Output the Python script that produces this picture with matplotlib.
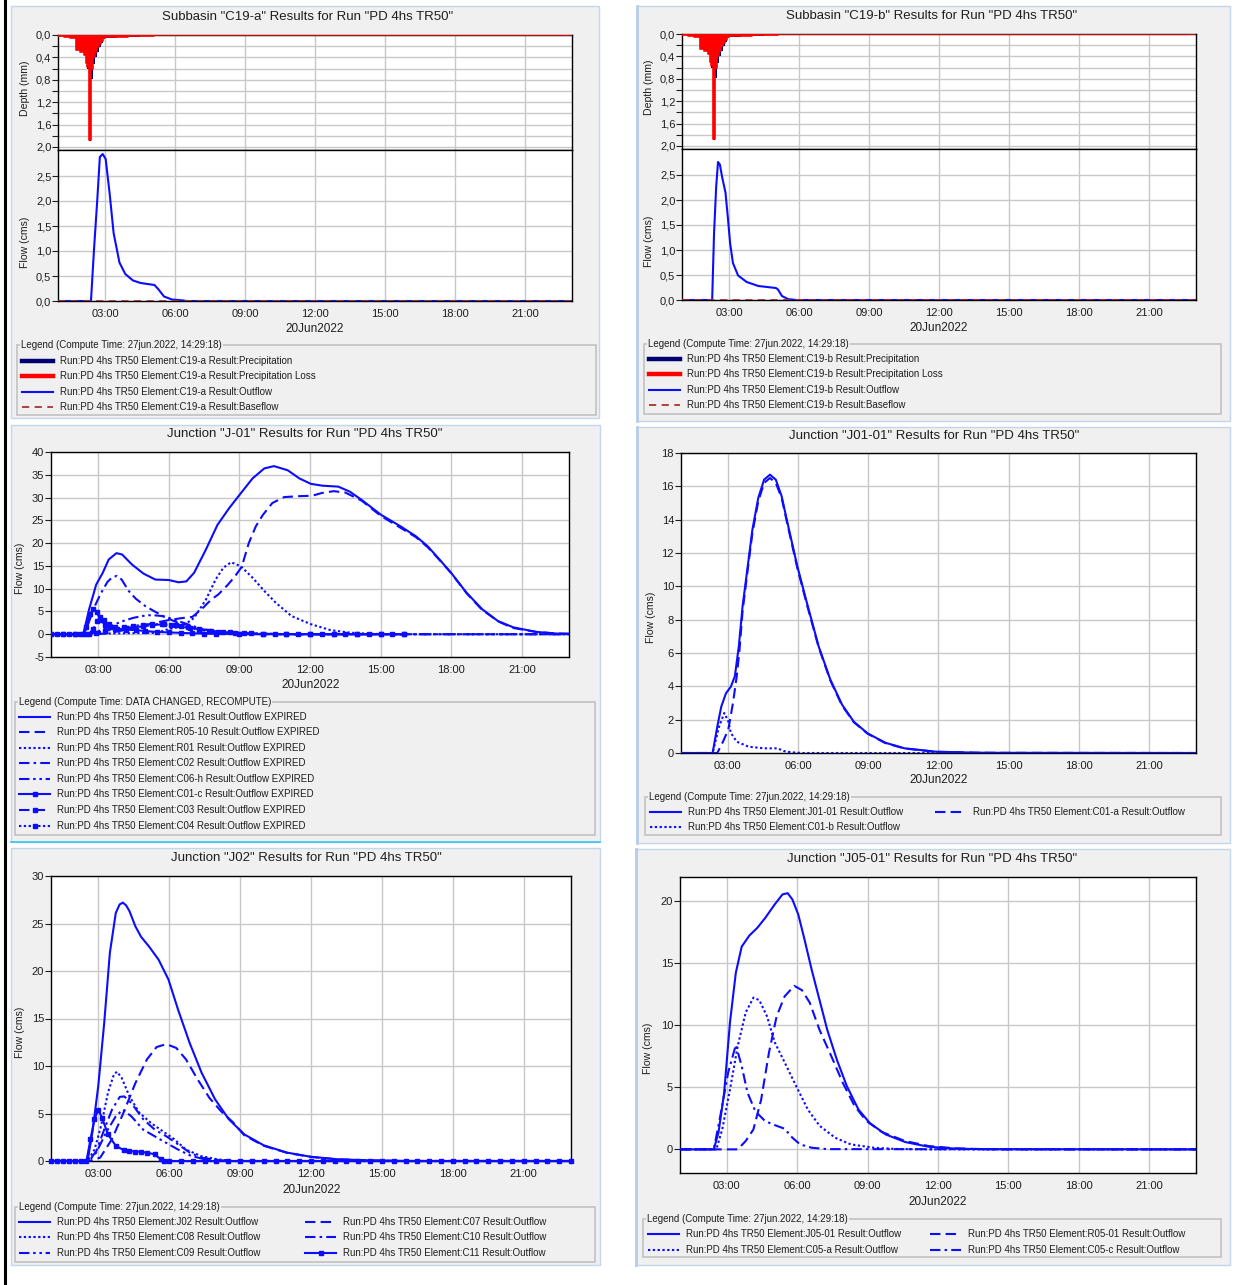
import numpy as np
import matplotlib
matplotlib.use("Agg")
import matplotlib.pyplot as plt
from matplotlib.patches import Rectangle
from matplotlib.lines import Line2D

# ---------------- data (hours of 20Jun2022, flow in cms, depth in mm) ----------------
hour_ticks = [3, 6, 9, 12, 15, 18, 21]
hour_labels = ["03:00", "06:00", "09:00", "12:00", "15:00", "18:00", "21:00"]
date_label = "20Jun2022"
run_prefix = "Run:PD 4hs TR50 Element:"

# subbasin hyetograph (step values, starting at each time)
hyet_t = [1.00, 1.25, 1.50, 1.75, 1.92, 2.08, 2.17, 2.25, 2.33, 2.42, 2.50, 2.58,
          2.67, 2.75, 2.83, 2.92, 3.00, 3.50, 4.00, 4.50, 5.10, 23.0]
hyet_precip = [0.02, 0.03, 0.05, 0.27, 0.30, 0.35, 0.50, 0.60, 1.90, 0.78, 0.52, 0.40,
               0.30, 0.22, 0.14, 0.08, 0.05, 0.04, 0.03, 0.02, 0.0, 0.0]
hyet_loss = [0.02, 0.03, 0.05, 0.27, 0.30, 0.35, 0.50, 0.58, 1.88, 0.60, 0.40, 0.30,
             0.22, 0.16, 0.10, 0.06, 0.04, 0.03, 0.02, 0.01, 0.0, 0.0]

c19a_t = [1.0, 2.40, 2.53, 2.67, 2.78, 2.90, 3.03, 3.20, 3.37, 3.62, 3.87, 4.20, 4.53,
          5.12, 5.28, 5.53, 5.87, 6.37, 6.50, 23.0]
c19a_q = [0, 0, 1.03, 2.02, 2.88, 2.94, 2.84, 2.15, 1.36, 0.77, 0.54, 0.41, 0.36,
          0.32, 0.24, 0.09, 0.03, 0.01, 0, 0]
c19b_t = [1.0, 2.28, 2.36, 2.45, 2.53, 2.61, 2.71, 2.85, 2.95, 3.05, 3.17, 3.39, 3.76,
          4.26, 5.01, 5.10, 5.27, 5.52, 5.85, 23.0]
c19b_q = [0, 0, 1.33, 2.25, 2.76, 2.71, 2.45, 2.15, 1.66, 1.13, 0.74, 0.49, 0.36,
          0.28, 0.24, 0.21, 0.08, 0.02, 0, 0]
base_t = [1.0, 23.0]
base_q = [0, 0]

# Junction J-01
j01_t = [1.0, 2.37, 2.62, 2.92, 3.20, 3.45, 3.78, 4.02, 4.44, 4.93, 5.43, 6.00, 6.42, 6.75,
         7.08, 7.58, 8.07, 8.57, 9.07, 9.56, 10.06, 10.47, 11.05, 11.55, 12.04, 12.54, 13.20,
         13.69, 14.19, 15.02, 15.84, 16.50, 17.00, 17.50, 17.99, 18.65, 19.31, 19.98, 20.64,
         21.63, 22.46, 23.0]
j01_q = [0, 0, 5.5, 10.9, 13.5, 16.4, 17.8, 17.5, 15.3, 13.3, 12.0, 11.9, 11.4, 11.6,
         13.5, 18.6, 24.0, 27.7, 31.0, 34.2, 36.4, 36.9, 36.0, 34.2, 33.0, 32.6, 32.4,
         31.3, 29.5, 26.2, 23.7, 21.5, 19.3, 16.4, 13.5, 9.1, 5.5, 2.9, 1.5,
         0.5, 0.15, 0.1]
r0510_t = [1.0, 3.0, 3.5, 4.0, 4.5, 5.0, 5.5, 6.0, 6.5, 7.0, 7.4, 7.8, 8.1, 8.5, 8.8, 9.1,
           9.4, 9.7, 10.0, 10.4, 10.9, 11.5, 12.1, 12.5, 13.0, 13.5, 14.2, 15.0, 15.8, 16.5,
           17.0, 17.5, 18.0, 18.65, 19.3, 20.0, 20.6, 21.6, 22.5, 23.0]
r0510_q = [0, 0, 0.3, 0.8, 1.4, 2.0, 2.6, 3.1, 3.5, 3.8, 5.5, 7.6, 8.7, 10.8, 12.6, 14.8,
           20.0, 23.7, 26.2, 28.8, 30.1, 30.3, 30.4, 31.0, 31.4, 31.1, 29.3, 26.0, 23.5, 21.3,
           19.1, 16.3, 13.4, 9.0, 5.4, 2.8, 1.4, 0.5, 0.15, 0.1]
r01_t = [1.0, 5.5, 5.9, 6.6, 7.08, 7.58, 7.99, 8.32, 8.65, 9.07, 9.56, 10.06, 10.55, 11.21,
         12.04, 12.87, 13.69, 14.52, 15.5, 23.0]
r01_q = [0, 0.3, 1.0, 1.8, 3.6, 7.6, 12.0, 14.6, 15.8, 14.9, 12.4, 9.5, 6.9, 4.0,
         2.2, 0.9, 0.35, 0.1, 0, 0]
c02_t = [1.0, 2.4, 2.6, 2.8, 3.1, 3.4, 3.6, 3.8, 4.0, 4.3, 4.6, 5.0, 5.4, 5.9, 6.4, 6.9,
         7.5, 8.0, 8.7, 9.5, 10.5, 23.0]
c02_q = [0, 0, 2.5, 5.5, 8.8, 11.5, 12.5, 12.8, 12.0, 9.5, 7.8, 6.2, 5.0, 3.6, 2.5, 1.6,
         0.8, 0.5, 0.2, 0.05, 0, 0]
c06h_t = [1.0, 2.5, 2.8, 3.2, 3.6, 4.0, 4.5, 5.0, 5.3, 5.7, 6.0, 6.4, 6.8, 7.2, 7.6, 8.0,
          8.5, 9.0, 10.0, 11.0, 23.0]
c06h_q = [0, 0, 0.3, 1.0, 1.9, 2.8, 3.6, 4.1, 4.2, 4.0, 3.6, 2.9, 2.2, 1.5, 1.0, 0.6,
          0.35, 0.2, 0.05, 0, 0]
c01c_t = [1.0, 1.5, 2.0, 2.35, 2.5, 2.65, 2.8, 2.95, 3.1, 3.3, 3.5, 3.8, 4.2, 4.6, 5.0,
          5.5, 6.0, 6.5, 7.0, 7.5, 8.0, 9.0, 10.0, 11.0, 12.0, 13.0, 14.0, 15.0, 16.0]
c01c_q = [0, 0, 0, 0, 1.5, 4.5, 5.5, 4.8, 3.2, 2.0, 1.5, 1.2, 1.0, 0.9, 0.7,
          0.5, 0.4, 0.3, 0.2, 0.15, 0.1, 0.05, 0, 0, 0, 0, 0, 0, 0]
c03_t = [1.25, 1.75, 2.25, 2.6, 2.8, 2.95, 3.1, 3.25, 3.45, 3.7, 4.1, 4.5, 4.9, 5.3, 5.8,
         6.3, 6.8, 7.3, 7.8, 8.3, 8.8, 9.5, 10.5, 11.5, 12.5, 13.5, 14.5, 15.5]
c03_q = [0, 0, 0, 0, 1.2, 2.8, 3.7, 3.1, 2.2, 1.6, 1.4, 1.5, 1.7, 2.0, 2.2,
         2.0, 1.6, 1.2, 0.8, 0.55, 0.35, 0.2, 0.05, 0, 0, 0, 0, 0]
c04_t = [1.0, 1.5, 2.0, 2.5, 2.9, 3.3, 3.7, 4.1, 4.5, 4.9, 5.3, 5.7, 6.1, 6.5, 6.9, 7.3,
         7.7, 8.1, 8.6, 9.2, 10.0, 11.0, 12.0, 13.0, 14.0, 15.0, 16.0]
c04_q = [0, 0, 0, 0, 0.3, 0.7, 1.1, 1.5, 1.8, 2.1, 2.2, 2.2, 2.0, 1.7, 1.3, 1.0,
         0.75, 0.55, 0.4, 0.25, 0.12, 0.04, 0, 0, 0, 0, 0]

# Junction J01-01
j0101_t = [1.0, 2.35, 2.55, 2.72, 2.92, 3.13, 3.30, 3.47, 3.63, 3.85, 4.05, 4.30, 4.55, 4.80,
           5.05, 5.30, 5.55, 5.97, 6.38, 6.88, 7.38, 7.88, 8.38, 8.97, 9.72, 10.55, 11.88,
           13.55, 14.55, 23.0]
j0101_q = [0, 0, 1.58, 2.78, 3.58, 3.98, 4.6, 6.4, 8.8, 11.2, 13.4, 15.3, 16.4, 16.7,
           16.4, 15.4, 13.8, 11.2, 9.0, 6.4, 4.4, 2.9, 1.88, 1.18, 0.62, 0.28, 0.08,
           0.02, 0.01, 0]
c01a_t = [1.0, 2.55, 2.80, 3.02, 3.22, 3.38, 3.50, 3.63, 3.85, 4.05, 4.30, 4.55, 4.80, 5.05,
          5.30, 5.55, 5.97, 6.38, 6.88, 7.38, 7.88, 8.38, 8.97, 9.72, 10.55, 11.88, 13.55,
          14.55, 23.0]
c01a_q = [0, 0, 0.7, 1.4, 3.0, 4.6, 6.2, 8.5, 11.0, 13.2, 15.1, 16.2, 16.5, 16.2,
          15.3, 13.7, 11.1, 8.9, 6.35, 4.35, 2.85, 1.85, 1.16, 0.6, 0.27, 0.07, 0.02,
          0.01, 0]
c01b_t = [1.0, 2.35, 2.63, 2.85, 3.02, 3.13, 3.38, 3.88, 4.55, 5.13, 5.38, 5.72, 6.20, 23.0]
c01b_q = [0, 0, 1.6, 2.4, 1.9, 1.2, 0.68, 0.38, 0.28, 0.28, 0.12, 0.04, 0, 0]

# Junction J02
j02_t = [1.0, 2.55, 2.75, 3.00, 3.25, 3.49, 3.74, 3.90, 4.04, 4.18, 4.32, 4.57, 4.81, 5.14,
         5.55, 5.97, 6.38, 6.87, 7.37, 7.94, 8.52, 9.18, 10.0, 10.99, 11.98, 13.14, 14.46,
         16.1, 23.0]
j02_q = [0, 0, 3.0, 7.9, 14.5, 21.9, 26.1, 27.0, 27.2, 26.9, 26.3, 24.7, 23.6, 22.6,
         21.2, 19.1, 15.9, 12.4, 9.3, 6.5, 4.4, 2.8, 1.65, 0.88, 0.45, 0.18, 0.07,
         0, 0]
c07_t = [1.0, 2.6, 3.08, 3.58, 4.07, 4.57, 5.06, 5.47, 5.88, 6.30, 6.71, 7.20, 7.70, 8.19,
         8.69, 9.18, 10.0, 11.0, 12.0, 13.1, 14.5, 16.0, 23.0]
c07_q = [0, 0, 0.35, 2.3, 5.1, 8.2, 10.7, 12.0, 12.3, 11.9, 10.7, 8.6, 6.65, 5.25,
         4.1, 2.7, 1.6, 0.85, 0.43, 0.17, 0.06, 0, 0]
c08_t = [1.0, 2.55, 2.84, 3.12, 3.41, 3.66, 3.79, 3.99, 4.32, 4.73, 5.23, 5.72, 6.21, 6.71,
         7.37, 8.03, 8.69, 23.0]
c08_q = [0, 0, 1.2, 3.7, 7.2, 9.1, 9.4, 8.75, 6.8, 5.1, 4.0, 3.15, 2.3, 1.2,
         0.5, 0.18, 0, 0]
c10_t = [1.0, 2.6, 2.92, 3.25, 3.58, 3.91, 4.10, 4.40, 4.90, 5.39, 5.88, 6.38, 6.87, 7.37,
         8.03, 8.69, 23.0]
c10_q = [0, 0, 1.05, 3.3, 5.4, 6.75, 6.8, 6.1, 4.4, 3.3, 2.6, 1.75, 0.88, 0.35,
         0.1, 0, 0]
c09_t = [1.0, 2.6, 2.92, 3.33, 3.74, 4.04, 4.40, 4.90, 5.39, 5.88, 6.38, 6.87, 7.37, 8.03, 23.0]
c09_q = [0, 0, 0.9, 3.0, 4.7, 5.4, 4.7, 3.3, 2.6, 1.9, 1.2, 0.6, 0.25, 0, 0]
c11_t = [1.0, 1.25, 1.5, 1.75, 2.0, 2.25, 2.5, 2.67, 2.84, 3.0, 3.16, 3.41, 3.74, 4.07,
         4.32, 4.57, 4.82, 5.06, 5.39, 5.64, 5.8, 6.0, 6.5, 7.0, 7.5, 8.0, 8.5, 9.0, 9.5,
         10.0, 10.5, 11.0, 11.5, 12.0, 12.5, 13.0, 13.5, 14.0, 14.5, 15.0, 15.5, 16.0,
         16.5, 17.0, 17.5, 18.0, 18.5, 19.0, 19.5, 20.0, 20.5, 21.0, 21.5, 22.0, 22.5, 23.0]
c11_q = [0, 0, 0, 0, 0, 0, 0, 2.3, 4.4, 5.4, 4.55, 2.8, 1.6, 1.15,
         1.05, 1.0, 0.95, 0.88, 0.7, 0.18, 0, 0, 0, 0, 0, 0, 0, 0, 0,
         0, 0, 0, 0, 0, 0, 0, 0, 0, 0, 0, 0, 0,
         0, 0, 0, 0, 0, 0, 0, 0, 0, 0, 0, 0, 0, 0]

# Junction J05-01
j0501_t = [1.0, 2.44, 2.64, 2.88, 3.13, 3.38, 3.63, 3.96, 4.29, 4.63, 5.04, 5.37, 5.59, 5.79,
           6.04, 6.28, 6.62, 6.95, 7.28, 7.69, 8.11, 8.61, 9.10, 9.77, 10.60, 11.59, 12.59,
           13.58, 23.0]
j0501_q = [0, 0, 1.34, 4.5, 10.2, 14.2, 16.3, 17.2, 17.8, 18.6, 19.7, 20.5, 20.6, 20.1,
           18.9, 17.1, 14.4, 12.0, 9.6, 7.2, 5.1, 3.2, 2.1, 1.2, 0.59, 0.21, 0.08,
           0.02, 0]
r0501_t = [1.0, 3.46, 3.80, 4.13, 4.46, 4.79, 5.12, 5.46, 5.87, 6.20, 6.53, 6.95, 7.45, 7.94,
           8.44, 8.94, 9.60, 10.60, 11.59, 12.75, 14.40, 23.0]
r0501_q = [0, 0, 0.67, 1.6, 4.0, 7.75, 10.7, 12.3, 13.15, 12.8, 11.8, 9.6, 7.5, 5.35,
           3.5, 2.3, 1.4, 0.67, 0.27, 0.08, 0, 0]
c05a_t = [1.0, 2.55, 2.80, 3.13, 3.46, 3.80, 4.13, 4.38, 4.71, 5.04, 5.46, 5.95, 6.45, 6.95,
          7.61, 8.28, 9.27, 10.27, 11.5, 23.0]
c05a_q = [0, 0, 1.6, 4.8, 8.3, 11.0, 12.2, 12.0, 10.7, 8.6, 7.0, 5.1, 3.2, 1.9,
          0.94, 0.4, 0.13, 0.03, 0, 0]
c05c_t = [1.0, 2.44, 2.72, 3.05, 3.38, 3.63, 3.88, 4.21, 4.63, 5.04, 5.46, 5.79, 6.12, 6.62,
          7.28, 23.0]
c05c_q = [0, 0, 2.7, 6.15, 8.4, 6.7, 4.55, 3.07, 2.27, 1.95, 1.66, 0.94, 0.4, 0.13,
          0.02, 0]

# ---------------- styling ----------------
W, H = 1235, 1285
BLUE = "#0c0cff"
NAVY = "#000070"
RED = "#ff0000"
BROWN = "#a83232"
PANEL = "#f0f0f0"
EDGE = "#c6d6ea"
GRID = "#c8c8c8"
TXT = "#1e1e1e"
FS_TITLE = 9.5
FS_TICK = 8.0
FS_DATE = 8.5
FS_LAB = 7.6
FS_LEG = 7.0

plt.rcParams["font.family"] = ["Liberation Sans", "DejaVu Sans"]
plt.rcParams["axes.unicode_minus"] = False

STYLES = {
    "solid": dict(ls="-"),
    "dash": dict(ls=(0, (5, 2.5))),
    "dot": dict(ls=(0, (1.1, 1.2))),
    "dashdot": dict(ls=(0, (5, 2, 1.2, 2))),
    "dashdotdot": dict(ls=(0, (5, 1.8, 1.2, 1.8, 1.2, 1.8))),
    "solid_sq": dict(ls="-", marker="s", ms=3.2),
    "dash_sq": dict(ls=(0, (5, 2.5)), marker="s", ms=3.2),
    "dot_sq": dict(ls=(0, (1.1, 1.2)), marker="s", ms=3.2),
}

fig = plt.figure(figsize=(W / 100, H / 100), dpi=100)
fig.patch.set_facecolor("white")


def fxy(x, y):
    return x / W, 1 - y / H


def panel(x0, y0, x1, y1, left_bar=False):
    fig.patches.append(Rectangle(fxy(x0, y1), (x1 - x0) / W, (y1 - y0) / H,
                                 transform=fig.transFigure, fc=PANEL, ec=EDGE, lw=1.0,
                                 zorder=-5))
    if left_bar:
        fig.add_artist(Line2D([x0 / W] * 2, [1 - y0 / H, 1 - y1 / H], color="#b6cde8",
                              lw=2.0, zorder=-4))


def axes_px(x0, y0, x1, y1):
    ax = fig.add_axes([x0 / W, 1 - y1 / H, (x1 - x0) / W, (y1 - y0) / H])
    ax.set_facecolor("white")
    for s in ax.spines.values():
        s.set_color("black")
        s.set_linewidth(1.0)
    ax.set_xlim(1, 23)
    ax.set_xticks(hour_ticks)
    ax.set_xticklabels(hour_labels)
    ax.grid(True, color=GRID, lw=1.0)
    ax.set_axisbelow(True)
    ax.tick_params(axis="x", length=0, labelsize=FS_TICK, pad=6, colors=TXT)
    ax.tick_params(axis="y", direction="out", length=4, width=0.8, labelsize=FS_TICK,
                   pad=1, colors=TXT)
    return ax


def text(x, y, s, size, **kw):
    fig.text(*fxy(x, y), s, fontsize=size, color=TXT, **kw)


def draw(ax, t, q, style, color=BLUE, lw=1.5, z=3):
    ax.plot(t, q, color=color, lw=lw, zorder=z, **STYLES[style])


def legend(x0, y0, x1, y1, title, entries):
    fig.patches.append(Rectangle(fxy(x0, y1), (x1 - x0) / W, (y1 - y0) / H,
                                 transform=fig.transFigure, fill=False, ec="#c2c2c2", lw=1.2))
    fig.text(*fxy(x0 + 4, y0), title, fontsize=FS_LEG, color=TXT, va="center",
             bbox=dict(fc=PANEL, ec="none", pad=0.6))
    for hx, yy, label, st in entries:
        xa, ya = fxy(hx, yy)
        xb, _ = fxy(hx + 31, yy)
        if isinstance(st, dict):
            fig.add_artist(Line2D([xa, xb], [ya, ya], **st))
        else:
            kw = dict(STYLES[st])
            mk = kw.pop("marker", None)
            kw.pop("ms", None)
            fig.add_artist(Line2D([xa, xb], [ya, ya], color=BLUE, lw=1.5, **kw))
            if mk:
                fig.add_artist(Line2D([(xa + xb) / 2], [ya], color=BLUE, marker=mk, ms=3.2, ls=""))
        fig.text(*fxy(hx + 38, yy), label, fontsize=FS_LEG, color=TXT, va="center")


def comma(v):
    return f"{v:.1f}".replace(".", ",")


# frame decorations
fig.add_artist(Line2D([4.5 / W] * 2, [0, 1], color="black", lw=2.2))

# ---------------- subbasin panels ----------------
depth_ticks = [0.0, 0.2, 0.4, 0.6, 0.8, 1.0, 1.2, 1.4, 1.6, 1.8, 2.0]
sub_flow_ticks = [0.0, 0.5, 1.0, 1.5, 2.0, 2.5]


def subbasin(name, px, title_x, q_t, q, leg):
    x0, x1, ytop, ysep, ybot = px
    axd = axes_px(x0, ytop, x1, ysep)
    axd.fill_between(hyet_t, 0, hyet_precip, step="post", color=NAVY, lw=0, zorder=2)
    axd.fill_between(hyet_t, 0, hyet_loss, step="post", color=RED, lw=0, zorder=3)
    axd.step(hyet_t, hyet_loss, where="post", color=RED, lw=1.2, zorder=4)
    axd.set_ylim(2.054, 0)
    axd.set_yticks(depth_ticks)
    axd.set_yticklabels([comma(v) if i % 2 == 0 else "" for i, v in enumerate(depth_ticks)])
    axd.tick_params(axis="x", labelbottom=False)

    axf = axes_px(x0, ysep, x1, ybot)
    draw(axf, q_t, q, "solid")
    axf.plot(base_t, base_q, color=BROWN, lw=1.3, ls=(0, (4, 3)), zorder=4)
    axf.set_ylim(0, 3.02)
    axf.set_yticks(sub_flow_ticks)
    axf.set_yticklabels([comma(v) for v in sub_flow_ticks])

    text(title_x, ytop - 18, f'Subbasin "{name}" Results for Run "PD 4hs TR50"', FS_TITLE,
         ha="center", va="center")
    text((x0 + x1) / 2, ybot + 28, date_label, FS_DATE, ha="center", va="center")
    text(x0 - 33, (ytop + ysep) / 2 - 4, "Depth (mm)", FS_LAB, rotation=90, ha="center", va="center")
    text(x0 - 33, (ysep + ybot) / 2 + 17, "Flow (cms)", FS_LAB, rotation=90, ha="center", va="center")

    lx0, ly0, lx1, ly1, hx, rows = leg
    names = ["Precipitation", "Precipitation Loss", "Outflow", "Baseflow"]
    hst = [dict(color=NAVY, lw=3.2), dict(color=RED, lw=3.2), dict(color=BLUE, lw=1.5),
           dict(color=BROWN, lw=1.3, ls=(0, (4, 3)))]
    legend(lx0, ly0, lx1, ly1, "Legend (Compute Time: 27jun.2022, 14:29:18)",
           [(hx, r, f"{run_prefix}{name} Result:{n}", s) for r, n, s in zip(rows, names, hst)])


panel(11, 6, 599, 418)
subbasin("C19-a", (58.3, 571.7, 35, 150, 301), 308,
         c19a_t, c19a_q, (17, 345, 596, 415, 22, [361, 376, 392, 407]))
panel(637, 6, 1230, 421, left_bar=True)
subbasin("C19-b", (682.3, 1195.7, 34, 149, 300), 932,
         c19b_t, c19b_q, (644, 344, 1221, 414, 649, [359, 374, 390, 405]))

# ---------------- J-01 ----------------
panel(11, 425, 600, 842)
fig.add_artist(Line2D([11 / W, 600 / W], [1 - 842 / H] * 2, color="#35c6e8", lw=1.2))
ax = axes_px(51, 452, 569, 657)
draw(ax, c04_t, c04_q, "dot_sq")
draw(ax, c03_t, c03_q, "dash_sq")
draw(ax, c01c_t, c01c_q, "solid_sq")
draw(ax, c06h_t, c06h_q, "dashdotdot")
draw(ax, c02_t, c02_q, "dashdot")
draw(ax, r01_t, r01_q, "dot")
draw(ax, r0510_t, r0510_q, "dash")
draw(ax, j01_t, j01_q, "solid")
ax.set_ylim(-5, 40)
ax.set_yticks([-5, 0, 5, 10, 15, 20, 25, 30, 35, 40])
text(305, 434, 'Junction "J-01" Results for Run "PD 4hs TR50"', FS_TITLE, ha="center", va="center")
text(311, 685, date_label, FS_DATE, ha="center", va="center")
text(20, 568, "Flow (cms)", FS_LAB, rotation=90, ha="center", va="center")
j01_names = ["J-01", "R05-10", "R01", "C02", "C06-h", "C01-c", "C03", "C04"]
j01_styles = ["solid", "dash", "dot", "dashdot", "dashdotdot", "solid_sq", "dash_sq", "dot_sq"]
j01_rows = [717, 732, 748, 763, 779, 794, 810, 826]
legend(15, 702, 595, 835, "Legend (Compute Time: DATA CHANGED, RECOMPUTE)",
       [(19, r, f"{run_prefix}{n} Result:Outflow EXPIRED", s)
        for r, n, s in zip(j01_rows, j01_names, j01_styles)])

# ---------------- J01-01 ----------------
panel(637, 427, 1230, 843, left_bar=True)
ax = axes_px(681, 453, 1196, 753)
draw(ax, c01b_t, c01b_q, "dot")
draw(ax, c01a_t, c01a_q, "dash")
draw(ax, j0101_t, j0101_q, "solid")
ax.set_ylim(0, 18)
ax.set_yticks([0, 2, 4, 6, 8, 10, 12, 14, 16, 18])
text(934, 436, 'Junction "J01-01" Results for Run "PD 4hs TR50"', FS_TITLE, ha="center", va="center")
text(939, 780, date_label, FS_DATE, ha="center", va="center")
text(651, 617, "Flow (cms)", FS_LAB, rotation=90, ha="center", va="center")
legend(645, 797, 1221, 835, "Legend (Compute Time: 27jun.2022, 14:29:18)",
       [(650, 812, f"{run_prefix}J01-01 Result:Outflow", "solid"),
        (935, 812, f"{run_prefix}C01-a Result:Outflow", "dash"),
        (650, 827, f"{run_prefix}C01-b Result:Outflow", "dot")])

# ---------------- J02 ----------------
panel(11, 848, 600, 1265)
ax = axes_px(51, 876, 571, 1161)
draw(ax, c11_t, c11_q, "solid_sq")
draw(ax, c09_t, c09_q, "dashdotdot")
draw(ax, c10_t, c10_q, "dashdot")
draw(ax, c08_t, c08_q, "dot")
draw(ax, c07_t, c07_q, "dash")
draw(ax, j02_t, j02_q, "solid")
ax.set_ylim(0, 30)
ax.set_yticks([0, 5, 10, 15, 20, 25, 30])
for ln in ax.lines:
    ln.set_clip_on(False)
text(306, 858, 'Junction "J02" Results for Run "PD 4hs TR50"', FS_TITLE, ha="center", va="center")
text(312, 1190, date_label, FS_DATE, ha="center", va="center")
text(20, 1032, "Flow (cms)", FS_LAB, rotation=90, ha="center", va="center")
legend(15, 1207, 595, 1262, "Legend (Compute Time: 27jun.2022, 14:29:18)",
       [(19, 1222, f"{run_prefix}J02 Result:Outflow", "solid"),
        (305, 1222, f"{run_prefix}C07 Result:Outflow", "dash"),
        (19, 1237, f"{run_prefix}C08 Result:Outflow", "dot"),
        (305, 1237, f"{run_prefix}C10 Result:Outflow", "dashdot"),
        (19, 1253, f"{run_prefix}C09 Result:Outflow", "dashdotdot"),
        (305, 1253, f"{run_prefix}C11 Result:Outflow", "solid_sq")])

# ---------------- J05-01 ----------------
panel(636, 849, 1230, 1265, left_bar=True)
ax = axes_px(680, 877, 1196, 1173)
draw(ax, c05c_t, c05c_q, "dashdot")
draw(ax, c05a_t, c05a_q, "dot")
draw(ax, r0501_t, r0501_q, "dash")
draw(ax, j0501_t, j0501_q, "solid")
ax.set_ylim(-1.9, 21.9)
ax.set_yticks([0, 5, 10, 15, 20])
text(932, 859, 'Junction "J05-01" Results for Run "PD 4hs TR50"', FS_TITLE, ha="center", va="center")
text(938, 1202, date_label, FS_DATE, ha="center", va="center")
text(648, 1048, "Flow (cms)", FS_LAB, rotation=90, ha="center", va="center")
legend(643, 1219, 1221, 1257, "Legend (Compute Time: 27jun.2022, 14:29:18)",
       [(648, 1234, f"{run_prefix}J05-01 Result:Outflow", "solid"),
        (930, 1234, f"{run_prefix}R05-01 Result:Outflow", "dash"),
        (648, 1250, f"{run_prefix}C05-a Result:Outflow", "dot"),
        (930, 1250, f"{run_prefix}C05-c Result:Outflow", "dashdot")])

fig.savefig("out.png", dpi=100, facecolor="white")
